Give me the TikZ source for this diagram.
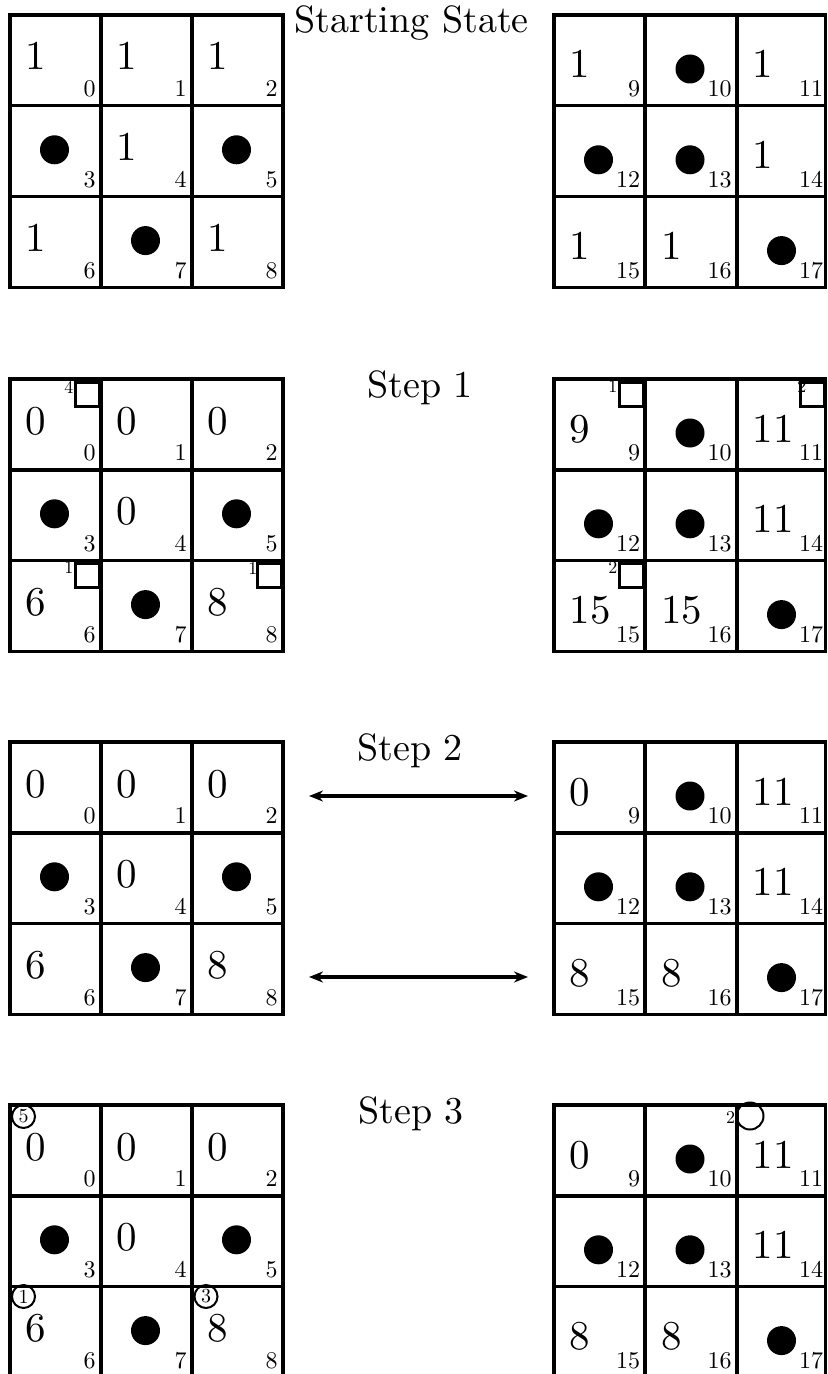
\documentclass[tikz,border=0pt]{standalone}
\usepackage{fontspec}
\setmainfont{lmroman10-regular}[Extension=.otf]
\usetikzlibrary{arrows.meta}
\newcommand\leftblock[4]{%
  \draw[gridline] (10,#1) rectangle (283,#1+272.4);
  \draw[gridline] (101,#1) -- (101,#1+272.4) (192,#1) -- (192,#1+272.4)
    (10,#1+90.8) -- (283,#1+90.8) (10,#1+181.6) -- (283,#1+181.6);
  \foreach \kk in {0,...,8}{%
    \pgfmathsetmacro\cx{10+91*mod(\kk,3)}%
    \pgfmathsetmacro\cy{#1+90.8*floor(\kk/3)}%
    \node[idx] (#2i\kk) at (\cx+86,\cy+81.5) {\kk};
  }
  \foreach \kk/\vv in {#3}{%
    \pgfmathsetmacro\cx{10+91*mod(\kk,3)}%
    \pgfmathsetmacro\cy{#1+90.8*floor(\kk/3)}%
    \node[bignum] (#2n\kk) at (\cx+15.5,\cy+55) {\vv};
  }
  \foreach \kk in {#4}{%
    \pgfmathsetmacro\cx{10+91*mod(\kk,3)}%
    \pgfmathsetmacro\cy{#1+90.8*floor(\kk/3)}%
    \node[dot] (#2d\kk) at (\cx+44.5,\cy+44) {};
  }
}
\newcommand\rightblock[4]{%
  \draw[gridline] (554,#1) rectangle (825.5,#1+272.4);
  \draw[gridline] (645,#1) -- (645,#1+272.4) (737,#1) -- (737,#1+272.4)
    (554,#1+90.8) -- (825.5,#1+90.8) (554,#1+181.6) -- (825.5,#1+181.6);
  \foreach \kk in {9,...,17}{%
    \pgfmathsetmacro\cx{554+91.5*mod(\kk-9,3)}%
    \pgfmathsetmacro\cy{#1+90.8*floor((\kk-9)/3)}%
    \node[idx] (#2i\kk) at (\cx+86.5,\cy+81.5) {\kk};
  }
  \foreach \kk/\vv in {#3}{%
    \pgfmathsetmacro\cx{554+91.5*mod(\kk-9,3)}%
    \pgfmathsetmacro\cy{#1+90.8*floor((\kk-9)/3)}%
    \node[bignum] (#2n\kk) at (\cx+15.5,\cy+63) {\vv};
  }
  \foreach \kk in {#4}{%
    \pgfmathsetmacro\cx{554+91.5*mod(\kk-9,3)}%
    \pgfmathsetmacro\cy{#1+90.8*floor((\kk-9)/3)}%
    \node[dot] (#2d\kk) at (\cx+44.5,\cy+54) {};
  }
}
\begin{document}
\begin{tikzpicture}[x=0.5pt,y=-0.5pt,
  gridline/.style={line width=1.7pt},
  bignum/.style={anchor=base west, inner sep=0pt, font=\fontsize{20.5}{22}\selectfont},
  idx/.style={anchor=base east, inner sep=0pt, font=\fontsize{12}{13}\selectfont},
  title/.style={anchor=base, inner sep=0pt, font=\fontsize{19}{21}\selectfont},
  dot/.style={circle, fill=black, inner sep=0pt, minimum size=14.5pt},
  marksq/.style={draw, line width=1.6pt, inner sep=0pt, minimum size=12pt, anchor=north east},
  marklab/.style={anchor=north east, inner sep=0pt, font=\fontsize{9}{10}\selectfont},
  ring/.style={circle, draw, line width=1pt, inner sep=0pt, minimum size=11.5pt, font=\fontsize{10}{11}\selectfont},
  link/.style={line width=1.6pt, {Stealth[length=7pt,width=5.5pt]}-{Stealth[length=7pt,width=5.5pt]}}
]
\useasboundingbox (0,0) rectangle (827,1374);
\clip (0,0) rectangle (827,1374);

% titles
\node[title] (t0) at (411.5,33) {Starting State};
\node[title] (t1) at (420,397) {Step 1};
\node[title] (t2) at (410,760) {Step 2};
\node[title] (t3) at (411,1123) {Step 3};

% starting state
\leftblock{15}{a}{0/1,1/1,2/1,4/1,6/1,8/1}{3,5,7}
\rightblock{15}{A}{9/1,11/1,14/1,15/1,16/1}{10,12,13,17}

% step 1
\leftblock{379}{b}{0/0,1/0,2/0,4/0,6/6,8/8}{3,5,7}
\rightblock{379}{B}{9/9,11/11,14/11,15/15,16/15}{10,12,13,17}
\node[marksq] (sq0) at (101,380.5) {};
\node[marklab] (lq0) at (sq0.north west) {4};
\node[marksq] (sq6) at (101,561.5) {};
\node[marklab] (lq6) at (sq6.north west) {1};
\node[marksq] (sq8) at (283,562) {};
\node[marklab] (lq8) at ([xshift=1pt]sq8.north west) {1};
\node[marksq] (sq9) at (645,380.5) {};
\node[marklab] (lq9) at (sq9.north west) {1};
\node[marksq] (sq11) at (826,380.5) {};
\node[marklab] (lq11) at ([xshift=4pt]sq11.north west) {2};
\node[marksq] (sq15) at (645,561.5) {};
\node[marklab] (lq15) at (sq15.north west) {2};

% step 2
\leftblock{742}{c}{0/0,1/0,2/0,4/0,6/6,8/8}{3,5,7}
\rightblock{742}{C}{9/0,11/11,14/11,15/8,16/8}{10,12,13,17}
\coordinate (p1) at (309,796);
\coordinate (q1) at (528,796);
\coordinate (p2) at (309,977);
\coordinate (q2) at (528,977);
\draw[link] (p1) -- (q1);
\draw[link] (p2) -- (q2);

% step 3
\leftblock{1105}{d}{0/0,1/0,2/0,4/0,6/6,8/8}{3,5,7}
\rightblock{1105}{D}{9/0,11/11,14/11,15/8,16/8}{10,12,13,17}
\node[ring] (r0) at (23.5,1116.5) {5};
\node[ring] (r6) at (23.5,1296.5) {1};
\node[ring] (r8) at (206,1296.5) {3};
\node[ring, minimum size=13.5pt] (r11) at (750,1116) {};
\node[marklab, anchor=base east] (lr11) at (r11.west |- 0,1123) {2};
\end{tikzpicture}
\end{document}
